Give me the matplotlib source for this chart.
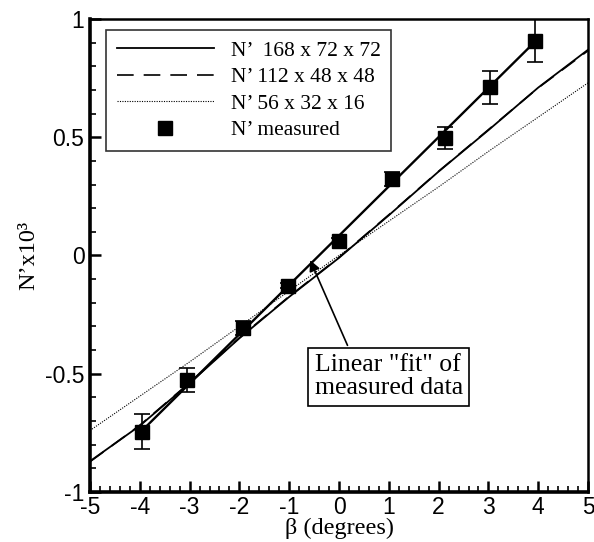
import matplotlib
matplotlib.use("Agg")
import matplotlib.pyplot as plt
from matplotlib.ticker import MultipleLocator

plt.rcParams['axes.unicode_minus'] = False

# ---- data ----
beta_grid = [-5, -4, -3, -2, -1, 0, 1, 2, 3, 4, 5]
n_168 = [-0.87, -0.72, -0.54, -0.35, -0.175, -0.01, 0.17, 0.355, 0.53, 0.71, 0.87]
n_112 = [-0.872, -0.718, -0.538, -0.348, -0.173, -0.008, 0.172, 0.356, 0.532, 0.709, 0.866]
n_56 = [-0.74, -0.595, -0.45, -0.30, -0.15, 0.0, 0.145, 0.29, 0.44, 0.585, 0.73]

beta_meas = [-3.96, -3.06, -1.93, -1.03, 0.0, 1.06, 2.12, 3.03, 3.94]
n_meas = [-0.745, -0.527, -0.305, -0.127, 0.063, 0.322, 0.497, 0.712, 0.908]
n_err = [0.075, 0.052, 0.03, 0.012, 0.012, 0.03, 0.047, 0.07, 0.09]

fit_beta = [-4.0, 3.94]
fit_n = [-0.75, 0.905]

labels = ["N\u2019  168 x 72 x 72", "N\u2019 112 x 48 x 48",
          "N\u2019 56 x 32 x 16", "N\u2019 measured"]
xticks = [-5, -4, -3, -2, -1, 0, 1, 2, 3, 4, 5]
yticks = [-1, -0.5, 0, 0.5, 1]
yticklabels = ["-1", "-0.5", "0", "0.5", "1"]

serif = ['Liberation Serif', 'DejaVu Serif']
sans = ['Liberation Sans', 'DejaVu Sans']

fig = plt.figure(figsize=(5.94, 5.42), dpi=100)
ax = fig.add_axes([0.1515, 0.0923, 0.8385, 0.8727])

ax.plot(beta_grid, n_168, color='k', lw=1.3, ls='-', label=labels[0])
ax.plot(beta_grid, n_112, color='k', lw=1.2, ls=(0, (10, 6)), label=labels[1])
ax.plot(beta_grid, n_56, color='k', lw=0.8, ls=(0, (1, 1.2)), label=labels[2])
ax.plot(fit_beta, fit_n, color='k', lw=1.7, ls='-')
ax.errorbar(beta_meas, n_meas, yerr=n_err, fmt='none', ecolor='k',
            elinewidth=1.2, capsize=5.5, capthick=1.2)
ax.plot(beta_meas, n_meas, 's', color='k', ms=9.5, ls='none', label=labels[3])

ax.set_xlim(-5, 5)
ax.set_ylim(-1, 1)
ax.set_xticks(xticks)
ax.set_xticklabels([str(t) for t in xticks], family=sans, fontsize=16.5)
ax.set_yticks(yticks)
ax.set_yticklabels(yticklabels, family=sans, fontsize=16.5)
ax.xaxis.set_minor_locator(MultipleLocator(0.2))
ax.yaxis.set_minor_locator(MultipleLocator(0.1))
ax.tick_params(which='both', direction='in', top=False, right=False)
ax.tick_params(which='major', length=8, width=1.8)
ax.tick_params(which='minor', length=4.5, width=1.2)
ax.tick_params(axis='x', which='major', pad=3)
ax.tick_params(axis='y', which='major', pad=4)

for side in ['left', 'bottom']:
    ax.spines[side].set_linewidth(2.6)
for side in ['top', 'right']:
    ax.spines[side].set_linewidth(1.8)

ax.set_xlabel("\u03b2 (degrees)", family=serif, fontsize=17.5, labelpad=-1)
ax.set_ylabel("N\u2019x10\u00b3", family=serif, fontsize=17.5, labelpad=4)

leg = ax.legend(loc='upper left', bbox_to_anchor=(0.032, 0.977), borderaxespad=0,
                prop={'family': serif, 'size': 15.5}, frameon=True, fancybox=False,
                handlelength=4.5, handletextpad=0.8, labelspacing=0.3,
                borderpad=0.5, numpoints=1)
leg.get_frame().set_edgecolor('k')
leg.get_frame().set_linewidth(1.2)

ax.text(1.0, -0.513, "Linear \"fit\" of\nmeasured data", family=serif, fontsize=18.5,
        ha='center', va='center', multialignment='left', linespacing=1.05,
        bbox=dict(boxstyle='square,pad=0.25', fc='white', ec='k', lw=1.2))
ax.annotate('', xy=(-0.58, -0.02), xytext=(0.17, -0.38),
            arrowprops=dict(arrowstyle='-|>', color='k', lw=1.2,
                            mutation_scale=16, shrinkA=0, shrinkB=0))

fig.savefig("out.png", dpi=100)
